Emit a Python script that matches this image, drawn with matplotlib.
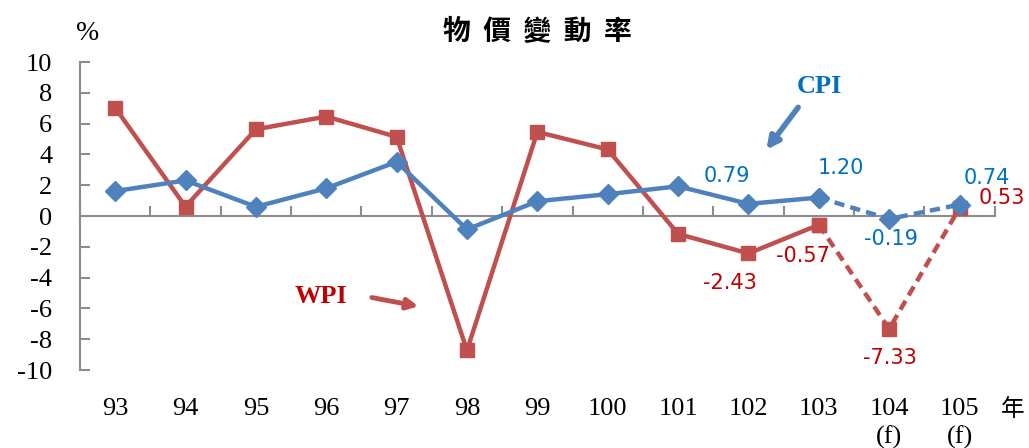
import numpy as np
import matplotlib.pyplot as plt

plt.rcParams['axes.unicode_minus'] = False

# data
years = ['93', '94', '95', '96', '97', '98', '99', '100', '101', '102', '103', '104\n(f)', '105\n(f)']
cpi = [1.62, 2.31, 0.60, 1.80, 3.52, -0.87, 0.96, 1.42, 1.93, 0.79, 1.20, -0.19, 0.74]
wpi = [7.03, 0.61, 5.63, 6.46, 5.14, -8.73, 5.46, 4.32, -1.16, -2.43, -0.57, -7.33, 0.53]
n_actual = 11  # 93..103 actual, 104/105 forecast

# label offsets in pixels (index, dx, dy)
cpi_labels = [(9, -22, 28), (10, 22, 30), (11, 2, -20), (12, 27, 27)]
wpi_labels = [(9, -19, -30), (10, -16, -31), (11, 1, -29), (12, 42, 10)]

cpi_color = '#4F81BD'
wpi_color = '#C0504D'
serif = 'Liberation Serif'
cjk = ['Noto Sans CJK TC', 'DejaVu Sans']

fig = plt.figure(figsize=(10.29, 4.48), dpi=100)
ax = fig.add_axes([0.0777, 0.174, 0.889, 0.6876])

x = np.arange(len(years))

# solid actual part
ax.plot(x[:n_actual], cpi[:n_actual], color=cpi_color, lw=3.2, marker='D', ms=10.5, zorder=4)
ax.plot(x[:n_actual], wpi[:n_actual], color=wpi_color, lw=3.2, marker='s', ms=9.5, zorder=3)
# dashed forecast part
ax.plot(x[n_actual - 1:], cpi[n_actual - 1:], color=cpi_color, lw=3.2, ls=(0, (2.3, 1.4)),
        marker='D', ms=10.5, zorder=4)
ax.plot(x[n_actual - 1:], wpi[n_actual - 1:], color=wpi_color, lw=3.2, ls=(0, (2.3, 1.4)),
        marker='s', ms=9.5, zorder=3)

for i, dx, dy in cpi_labels:
    ax.annotate(f'{cpi[i]:.2f}', (x[i], cpi[i]), xytext=(dx, dy), textcoords='offset pixels',
                ha='center', va='center', fontsize=15, color='#0070C0')
for i, dx, dy in wpi_labels:
    ax.annotate(f'{wpi[i]:.2f}', (x[i], wpi[i]), xytext=(dx, dy), textcoords='offset pixels',
                ha='center', va='center', fontsize=15, color='#C00000')

# CPI / WPI callouts
ax.annotate('', xy=(9.23, 4.16), xytext=(9.73, 7.2),
            arrowprops=dict(arrowstyle='-|>', color=cpi_color, lw=4, mutation_scale=18))
ax.text(10.01, 8.4, 'CPI', color='#0070C0', fontsize=19, fontweight='bold',
        family=serif, ha='center', va='center')
ax.annotate('', xy=(4.35, -5.9), xytext=(3.61, -5.26),
            arrowprops=dict(arrowstyle='-|>', color=wpi_color, lw=3.5, mutation_scale=16))
ax.text(2.93, -5.2, 'WPI', color='#C00000', fontsize=19, fontweight='bold',
        family=serif, ha='center', va='center')

ax.set_xlim(-0.5, len(years) - 0.5)
ax.set_ylim(-10, 10)
ax.set_yticks(np.arange(-10, 11, 2))

for s in ['top', 'right', 'bottom']:
    ax.spines[s].set_visible(False)
ax.spines['left'].set_color('#8C8C8C')
ax.spines['left'].set_linewidth(1.5)
ax.tick_params(axis='y', direction='in', length=7, width=1.5, color='#8C8C8C', pad=20,
               labelsize=19, labelfontfamily=serif)
ax.set_xticks(x)
ax.set_xticklabels(years, linespacing=1.3)
ax.tick_params(axis='x', length=0, pad=20, labelsize=19, labelfontfamily=serif)

# category axis drawn at y = 0
zero_ax = ax.secondary_xaxis(0.5)
zero_ax.spines['bottom'].set_color('#8C8C8C')
zero_ax.spines['top'].set_color('#8C8C8C')
zero_ax.spines['bottom'].set_linewidth(1.5)
zero_ax.spines['top'].set_linewidth(1.5)
zero_ax.set_xticks(np.arange(-0.5, len(years), 1.0))
zero_ax.set_xticklabels([])
zero_ax.tick_params(direction='out', length=7, width=1.5, color='#8C8C8C')

fig.text(0.0855, 0.926, '%', fontsize=20, family=serif, ha='center', va='center')
fig.text(0.522, 0.928, '物  價  變  動  率', fontsize=20, fontweight='bold', family=cjk,
         ha='center', va='center')
fig.text(0.984, 0.085, '年', fontsize=17, family=cjk, ha='center', va='center')

fig.savefig('out.png', dpi=100)
